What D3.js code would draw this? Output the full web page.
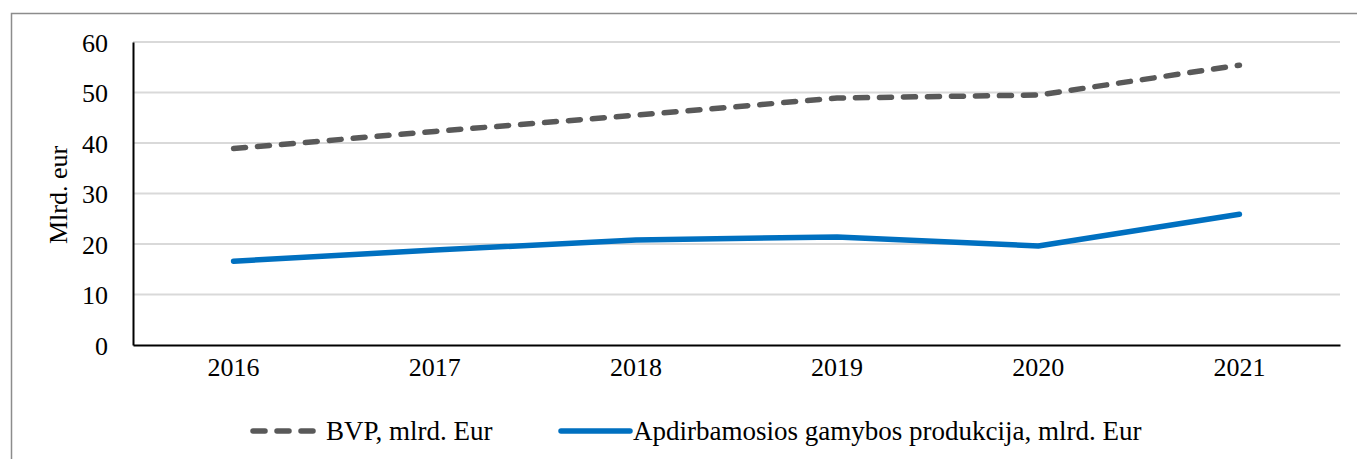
<!DOCTYPE html>
<html>
<head>
<meta charset="utf-8">
<script src="https://cdn.jsdelivr.net/npm/d3@7"></script>
<style>
  body { margin: 0; background: #fff; }
  svg text { font-family: "Liberation Serif", "Times New Roman", serif; fill: #000; }
</style>
</head>
<body>
<svg class="chart" width="1357" height="459"></svg>
<script>
var years = ["2016", "2017", "2018", "2019", "2020", "2021"];
var bvp = [38.9, 42.3, 45.5, 48.9, 49.5, 55.4];
var apdirb = [16.6, 18.8, 20.8, 21.4, 19.6, 25.9];
var yTicks = [0, 10, 20, 30, 40, 50, 60];
var seriesNames = ["BVP, mlrd. Eur", "Apdirbamosios gamybos produkcija, mlrd. Eur"];

var svg = d3.select("svg.chart"),
    margin = {top: 42, right: 17, bottom: 114, left: 133},
    width = 1357 - margin.left - margin.right,
    height = 459 - margin.top - margin.bottom;

// outer chart frame, runs past the right and bottom edge
svg.append("rect")
    .attr("x", 11.5).attr("y", 13.5)
    .attr("width", 1400).attr("height", 500)
    .attr("fill", "none")
    .attr("stroke", "#8c8c8c")
    .attr("stroke-width", 1.5);

var g = svg.append("g").attr("transform", "translate(" + margin.left + "," + margin.top + ")");

var x = d3.scaleBand().domain(years).range([0, width]),
    y = d3.scaleLinear().domain([0, 60]).range([height, 0]);

// gridlines
g.append("g")
    .selectAll("line")
    .data(yTicks.slice(1))
    .enter().append("line")
    .attr("x1", 0).attr("x2", width)
    .attr("y1", function(d) { return y(d); })
    .attr("y2", function(d) { return y(d); })
    .style("stroke", "#d9d9d9")
    .style("stroke-width", 2);

var yAxis = g.append("g")
    .call(d3.axisLeft(y).tickValues(yTicks).tickSize(0).tickPadding(25));
yAxis.select(".domain").attr("stroke", "#000").attr("stroke-width", 2);
yAxis.selectAll("text").style("font-size", "26px").attr("dy", "0.35em");

var xAxis = g.append("g")
    .attr("transform", "translate(0," + height + ")")
    .call(d3.axisBottom(x).tickSize(0).tickPadding(22));
xAxis.select(".domain").attr("stroke", "#000").attr("stroke-width", 2);
xAxis.selectAll("text").style("font-size", "26px").attr("dy", "0.35em");

svg.append("text")
    .attr("transform", "translate(67,195) rotate(-90)")
    .attr("text-anchor", "middle")
    .style("font-size", "26px")
    .text("Mlrd. eur");

var line = d3.line()
    .x(function(d, i) { return x(years[i]) + x.bandwidth() / 2; })
    .y(function(d) { return y(d); });

g.append("path")
    .datum(apdirb)
    .attr("d", line)
    .attr("fill", "none")
    .attr("stroke", "#0070c0")
    .attr("stroke-width", 5.5)
    .attr("stroke-linecap", "round")
    .attr("stroke-linejoin", "round");

g.append("path")
    .datum(bvp)
    .attr("d", line)
    .attr("fill", "none")
    .attr("stroke", "#595959")
    .attr("stroke-width", 5.5)
    .attr("stroke-dasharray", "12,12")
    .attr("stroke-linecap", "round")
    .attr("stroke-linejoin", "round");

// legend
var legend = svg.append("g");
legend.append("line")
    .attr("x1", 253).attr("x2", 317).attr("y1", 431).attr("y2", 431)
    .attr("stroke", "#595959").attr("stroke-width", 5.5)
    .attr("stroke-dasharray", "12,12").attr("stroke-linecap", "round");
legend.append("text")
    .attr("x", 326).attr("y", 440)
    .style("font-size", "27px")
    .text(seriesNames[0]);
legend.append("line")
    .attr("x1", 561).attr("x2", 630).attr("y1", 431).attr("y2", 431)
    .attr("stroke", "#0070c0").attr("stroke-width", 5.5).attr("stroke-linecap", "round");
legend.append("text")
    .attr("x", 633).attr("y", 440)
    .style("font-size", "27px")
    .text(seriesNames[1]);
</script>
</body>
</html>
